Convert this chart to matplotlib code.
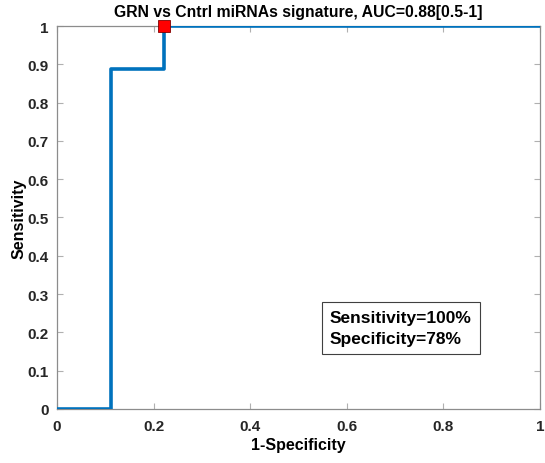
import matplotlib
matplotlib.use("Agg")
import matplotlib.pyplot as plt

plt.rcParams['font.family'] = ['Liberation Sans', 'DejaVu Sans']
plt.rcParams['font.weight'] = 'bold'

# ROC curve points (1-specificity, sensitivity)
fpr = [0.0, 0.111, 0.111, 0.222, 0.222, 1.0]
tpr = [0.0, 0.0, 0.889, 0.889, 1.0, 1.0]

# operating point
opt_fpr = 0.222
opt_tpr = 1.0

auc_text = "GRN vs Cntrl miRNAs signature, AUC=0.88[0.5-1]"
sens_pct = 100
spec_pct = 78

xticks = [0, 0.2, 0.4, 0.6, 0.8, 1]
yticks = [0, 0.1, 0.2, 0.3, 0.4, 0.5, 0.6, 0.7, 0.8, 0.9, 1]

fig = plt.figure(figsize=(5.45, 4.64), dpi=100)
ax = fig.add_axes([0.1046, 0.1164, 0.8862, 0.8254])

ax.plot(fpr, tpr, color='#0072BD', linewidth=2.6, zorder=3)
ax.plot([opt_fpr], [opt_tpr], marker='s', markersize=8.5, color='#FF0000',
        markeredgecolor='#800000', markeredgewidth=0.6, linestyle='none',
        zorder=4, clip_on=False)

ax.set_xlim(0, 1)
ax.set_ylim(0, 1)
ax.set_xticks(xticks)
ax.set_xticklabels(["0", "0.2", "0.4", "0.6", "0.8", "1"])
ax.set_yticks(yticks)
ax.set_yticklabels(["0", "0.1", "0.2", "0.3", "0.4", "0.5", "0.6",
                    "0.7", "0.8", "0.9", "1"])
ax.tick_params(direction='in', top=True, right=True, length=4,
               color='#b0b0b0', labelsize=11, labelcolor='#262626')
ax.tick_params(axis='x', pad=7)
ax.tick_params(axis='y', pad=6)
for s in ax.spines.values():
    s.set_color('#8c8c8c')
    s.set_linewidth(0.9)

ax.set_xlabel("1-Specificity", fontsize=11.5, fontweight='bold', labelpad=3)
ax.set_ylabel("Sensitivity", fontsize=11.5, fontweight='bold', labelpad=1)
ax.set_title(auc_text, fontsize=11.3, fontweight='bold', pad=7.5)

ax.text(0.565, 0.212,
        "Sensitivity=%d%%\nSpecificity=%d%%" % (sens_pct, spec_pct),
        transform=ax.transAxes, fontsize=12.5, fontweight='bold',
        va='center', ha='left', linespacing=1.5,
        bbox=dict(boxstyle='square,pad=0.45', facecolor='white',
                  edgecolor='#404040', linewidth=0.8))

fig.savefig("out.png", dpi=100)
